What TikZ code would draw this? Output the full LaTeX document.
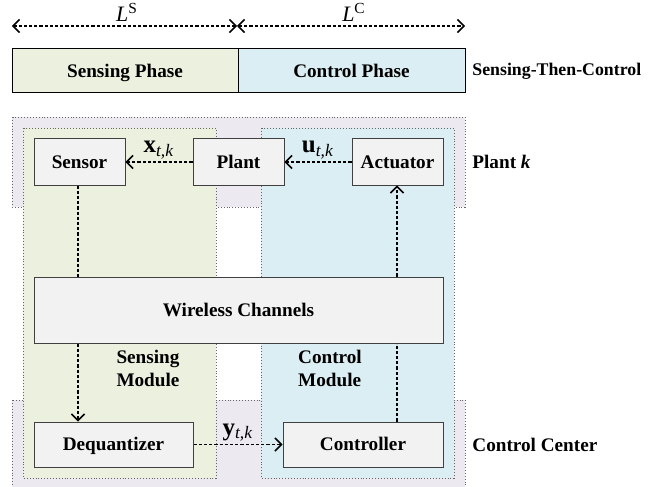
\documentclass[tikz,border=0pt]{standalone}
\usepackage{fontspec}
\setmainfont{Liberation Serif}
\usetikzlibrary{arrows.meta}
\definecolor{sensegreen}{HTML}{EBF1DE}
\definecolor{ctrlblue}{HTML}{DBEEF4}
\definecolor{plantlav}{HTML}{ECE9F1}
\definecolor{boxgray}{HTML}{F2F2F2}
\definecolor{edgegray}{HTML}{404040}
\tikzset{
	block/.style={draw=edgegray,fill=boxgray,line width=0.5pt,font=\bfseries,inner sep=0pt,text height=6.3pt,text depth=0pt},
	area/.style={draw=gray!80!black,densely dotted,line width=0.45pt},
	flow/.style={line width=0.9pt,dash pattern=on 1.6pt off 1pt,-{Straight Barb[length=3.2pt,width=6.5pt,line width=0.8pt]}},
	link/.style={line width=0.9pt,dash pattern=on 1.6pt off 1pt},
	span/.style={line width=0.9pt,dash pattern=on 1.6pt off 1pt,{Straight Barb[length=3.2pt,width=6.5pt,line width=0.8pt]}-{Straight Barb[length=3.2pt,width=6.5pt,line width=0.8pt]}},
	tag/.style={font=\bfseries,anchor=west,inner sep=0pt},
	signal/.style={font=\fontsize{12.5}{14}\selectfont,inner sep=1pt}
}
\begin{document}
\fontsize{9.6}{11.5}\selectfont
\begin{tikzpicture}[x=0.5pt,y=-0.5pt]
				\useasboundingbox (0,0) rectangle (656,486);
				% durations
				\coordinate (LS) at (12,26);
				\coordinate (LM) at (237,26);
				\coordinate (LC) at (465,26);
				\draw [span] (LM) -- (LS);
				\draw [span] (LM) -- (LC);
				\node [font=\fontsize{11}{13}\selectfont] at (127,12) {\textit{L}\textsuperscript{S}};
				\node [font=\fontsize{11}{13}\selectfont] at (354,12) {\textit{L}\textsuperscript{C}};
				% phases
				\node [block,draw=black,fill=sensegreen,minimum width=113pt,minimum height=22pt] (sphase) at (125,71) {Sensing Phase};
				\node [block,draw=black,fill=ctrlblue,minimum width=113.5pt,minimum height=22pt] (cphase) at (351.5,71) {Control Phase};
				\node [tag,font=\bfseries\fontsize{8.9}{11}\selectfont] at (472,71) {Sensing-Then-Control};
				% plant and control center
				\draw [area,fill=plantlav] (12,117) rectangle (465,207);
				\draw [area,fill=plantlav] (12,400) rectangle (465,496);
				\node [tag] at (472,162) {Plant \textit{k}};
				\node [tag] at (472,444.5) {Control Center};
				% modules
				\draw [area,fill=sensegreen] (23,128) rectangle (216,478);
				\draw [area,fill=ctrlblue] (261,128) rectangle (454,478);
				\node [font=\bfseries,align=left] at (148,368) {Sensing\\Module};
				\node [font=\bfseries,align=left] at (330,368) {Control\\Module};
				% blocks
				\node [block,minimum width=45.5pt,minimum height=23pt] (sensor) at (79.5,162) {Sensor};
				\node [block,minimum width=45.5pt,minimum height=23pt] (plant) at (238.5,162) {Plant};
				\node [block,minimum width=45.5pt,minimum height=23pt] (actuator) at (397.5,162) {Actuator};
				\node [block,minimum width=204.5pt,minimum height=33pt] (wireless) at (238.5,310) {Wireless Channels};
				\node [block,minimum width=79.5pt,minimum height=22.5pt] (dequant) at (113.5,444.5) {Dequantizer};
				\node [block,minimum width=80pt,minimum height=22.5pt] (controller) at (363,444.5) {Controller};
				% signals
				\draw [flow] (plant) -- node[signal,above] {\textbf{x}\textsubscript{\textit{t,k}}} (sensor);
				\draw [flow] (actuator) -- node[signal,above] {\textbf{u}\textsubscript{\textit{t,k}}} (plant);
				\draw [flow] (dequant) -- node[signal,above] {\textbf{y}\textsubscript{\textit{t,k}}} (controller);
				\draw [link] (sensor.south -| 78,0) -- (wireless.north -| 78,0);
				\draw [flow] (wireless.south -| 78,0) -- (dequant.north -| 78,0);
				\draw [link] (controller.north -| 397,0) -- (wireless.south -| 397,0);
				\draw [flow] (wireless.north -| 397,0) -- (actuator.south -| 397,0);
			\end{tikzpicture}
\end{document}
